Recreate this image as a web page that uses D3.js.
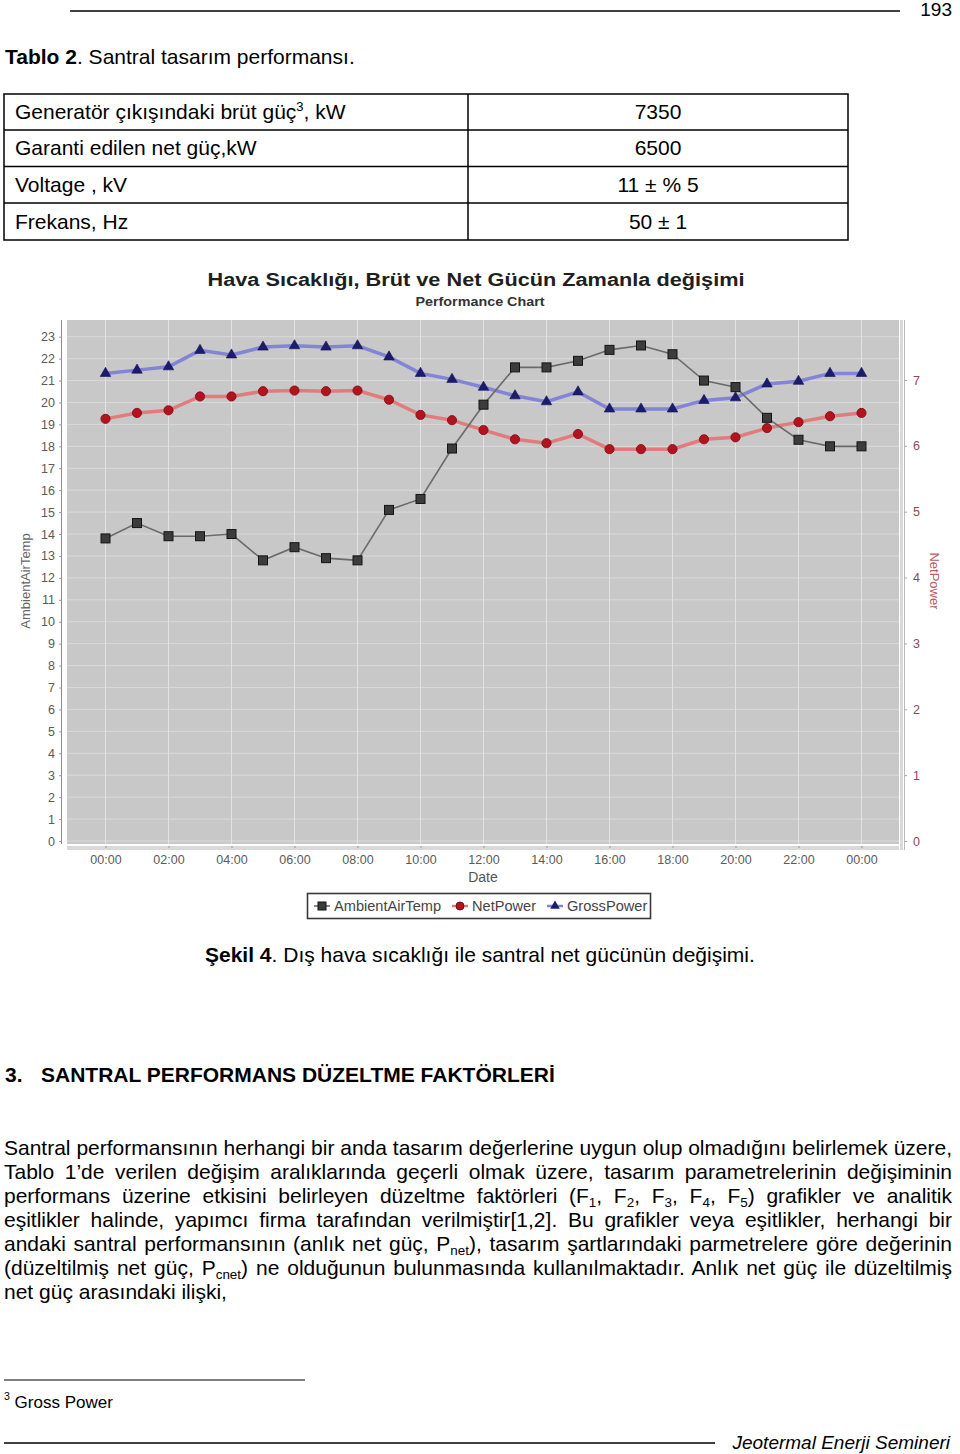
<!DOCTYPE html>
<html><head><meta charset="utf-8">
<script src="https://cdn.jsdelivr.net/npm/d3@7"></script>
<style>
body{margin:0;background:#fff;}
svg{display:block;}
text{font-family:"Liberation Sans",Arial,sans-serif;}
</style>
</head><body>
<svg id="page" width="960" height="1454"></svg>
<script>
// ---------- DATA ----------
const hours = [0,1,2,3,4,5,6,7,8,9,10,11,12,13,14,15,16,17,18,19,20,21,22,23,24];
const ambientAirTemp = [13.8,14.5,13.9,13.9,14.0,12.8,13.4,12.9,12.8,15.1,15.6,17.9,19.9,21.6,21.6,21.9,22.4,22.6,22.2,21.0,20.7,19.3,18.3,18.0,18.0];
const netPower = [6.41,6.50,6.54,6.75,6.75,6.83,6.84,6.83,6.84,6.70,6.47,6.39,6.24,6.10,6.04,6.18,5.95,5.95,5.95,6.10,6.13,6.27,6.36,6.45,6.50];
const grossPower = [7.10,7.15,7.20,7.45,7.38,7.50,7.52,7.50,7.52,7.35,7.10,7.01,6.89,6.76,6.67,6.82,6.56,6.56,6.56,6.69,6.73,6.94,6.98,7.10,7.10];
const xTickHours = [0,2,4,6,8,10,12,14,16,18,20,22,24];
const xTickLabels = ["00:00","02:00","04:00","06:00","08:00","10:00","12:00","14:00","16:00","18:00","20:00","22:00","00:00"];
const leftTicks = [0,1,2,3,4,5,6,7,8,9,10,11,12,13,14,15,16,17,18,19,20,21,22,23];
const rightTicks = [0,1,2,3,4,5,6,7];
const seriesNames = ["AmbientAirTemp","NetPower","GrossPower"];

const tableRows = [
  [["Generatör çıkışındaki brüt güç","n"],["3","sup"],[", kW","n"]],
  [["Garanti edilen net güç,kW","n"]],
  [["Voltage , kV","n"]],
  [["Frekans, Hz","n"]]
];
const tableValues = ["7350","6500","11 ± % 5","50 ± 1"];

const paragraph = [
  [["Santral performansının herhangi bir anda tasarım değerlerine uygun olup olmadığını belirlemek üzere,","n"]],
  [["Tablo 1’de verilen değişim aralıklarında geçerli olmak üzere, tasarım parametrelerinin değişiminin","n"]],
  [["performans üzerine etkisini belirleyen düzeltme faktörleri (F","n"],["1","sub"],[", F","n"],["2","sub"],[", F","n"],["3","sub"],[", F","n"],["4","sub"],[", F","n"],["5","sub"],[") grafikler ve analitik","n"]],
  [["eşitlikler halinde, yapımcı firma tarafından verilmiştir[1,2]. Bu grafikler veya eşitlikler, herhangi bir","n"]],
  [["andaki santral performansının (anlık net güç, P","n"],["net","sub"],["), tasarım şartlarındaki parmetrelere göre değerinin","n"]],
  [["(düzeltilmiş net güç, P","n"],["cnet","sub"],[") ne olduğunun bulunmasında kullanılmaktadır. Anlık net güç ile düzeltilmiş","n"]],
  [["net güç arasındaki ilişki,","n"]]
];

// ---------- PAGE ----------
const svg = d3.select("#page");
const F = 21;

function richText(g, segs, x, y, size, opts={}) {
  const t = g.append("text").attr("x", x).attr("y", y).attr("font-size", size).attr("fill", "#000");
  if (opts.anchor) t.attr("text-anchor", opts.anchor);
  let shift = 0;
  segs.forEach(([s, type]) => {
    const ts = t.append("tspan").text(s);
    if (type === "sub") { ts.attr("font-size", size*0.64).attr("dy", 4 - shift); shift = 4; }
    else if (type === "sup") { ts.attr("font-size", size*0.62).attr("dy", -8 - shift); shift = -8; }
    else if (type === "b") { ts.attr("font-weight", "bold").attr("dy", -shift); shift = 0; }
    else { ts.attr("dy", -shift); shift = 0; }
  });
  return t;
}

// header
svg.append("line").attr("x1", 70).attr("x2", 900).attr("y1", 11).attr("y2", 11).attr("stroke", "#000").attr("stroke-width", 1.5);
svg.append("text").attr("x", 952).attr("y", 16).attr("text-anchor", "end").attr("font-size", 19).text("193");

// table caption
richText(svg, [["Tablo 2","b"],[". Santral tasarım performansı.","n"]], 5, 64, F);

// table
const tRowY = [94, 130, 166.5, 203, 240];
const tg = svg.append("g");
tg.append("rect").attr("x", 4).attr("y", 94).attr("width", 844).attr("height", 146).attr("fill", "none").attr("stroke", "#000").attr("stroke-width", 1.5);
tRowY.slice(1, 4).forEach(y => tg.append("line").attr("x1", 4).attr("x2", 848).attr("y1", y).attr("y2", y).attr("stroke", "#000").attr("stroke-width", 1.5));
tg.append("line").attr("x1", 468).attr("x2", 468).attr("y1", 94).attr("y2", 240).attr("stroke", "#000").attr("stroke-width", 1.5);
tableRows.forEach((r, i) => {
  const yb = (tRowY[i] + tRowY[i+1]) / 2 + 7;
  richText(tg, r, 15, yb, F);
  tg.append("text").attr("x", 658).attr("y", yb).attr("text-anchor", "middle").attr("font-size", F).text(tableValues[i]);
});

// ---------- CHART ----------
const P = {left: 67, right: 899, top: 320, bottom: 844};
const x = d3.scaleLinear().domain([0, 24]).range([105.5, 861.5]);
const yL = d3.scaleLinear().domain([0, 23]).range([841, 336.7]);
const yR = d3.scaleLinear().domain([0, 7]).range([841, 380]);

const cg = svg.append("g");
cg.append("text").attr("x", 476).attr("y", 286).attr("text-anchor", "middle").attr("font-size", 18).attr("font-weight", "bold").attr("fill", "#1e1e1e")
  .attr("textLength", 537).attr("lengthAdjust", "spacingAndGlyphs").text("Hava Sıcaklığı, Brüt ve Net Gücün Zamanla değişimi");
cg.append("text").attr("x", 480).attr("y", 306).attr("text-anchor", "middle").attr("font-size", 12.5).attr("font-weight", "bold").attr("fill", "#333")
  .attr("textLength", 129).attr("lengthAdjust", "spacingAndGlyphs").text("Performance Chart");

// plot background
cg.append("rect").attr("x", P.left).attr("y", P.top).attr("width", P.right - P.left).attr("height", P.bottom - P.top).attr("fill", "#c8c8c8");
cg.append("rect").attr("x", P.left).attr("y", P.bottom + 2).attr("width", P.right - P.left).attr("height", 4).attr("fill", "#d9d9d9");
cg.append("rect").attr("x", P.right + 1).attr("y", P.top).attr("width", 3).attr("height", P.bottom - P.top + 6).attr("fill", "#d9d9d9");

// gridlines
cg.append("g").selectAll("line").data(leftTicks).join("line")
  .attr("x1", P.left).attr("x2", P.right).attr("y1", d => yL(d)).attr("y2", d => yL(d))
  .attr("stroke", "#dadada").attr("stroke-width", 1);
cg.append("g").selectAll("line").data(xTickHours).join("line")
  .attr("x1", d => x(d)).attr("x2", d => x(d)).attr("y1", P.top).attr("y2", P.bottom)
  .attr("stroke", "#e2e2e2").attr("stroke-width", 1);

// axes
const axL = cg.append("g").attr("transform", "translate(62,0)")
  .call(d3.axisLeft(yL).tickValues(leftTicks).tickSize(3).tickPadding(4));
axL.select(".domain").attr("d", `M-0.5,${P.top}V${P.bottom}`).attr("stroke", "#8a8a8a");
axL.selectAll(".tick line").attr("stroke", "#999");
axL.selectAll(".tick text").attr("font-size", 12.5).attr("fill", "#5a5a5a").attr("font-family", "Liberation Sans, Arial, sans-serif");

const axR = cg.append("g").attr("transform", "translate(904,0)")
  .call(d3.axisRight(yR).tickValues(rightTicks).tickFormat(d3.format("d")).tickSize(3).tickPadding(6));
axR.select(".domain").attr("d", `M0.5,${P.top}V${P.bottom + 6}`).attr("stroke", "#bbbbbb");
axR.selectAll(".tick line").attr("stroke", "#aaa");
axR.selectAll(".tick text").attr("font-size", 12.5).attr("fill", "#8a4a55").attr("font-family", "Liberation Sans, Arial, sans-serif");

const axX = cg.append("g").attr("transform", `translate(0,${P.bottom + 2})`)
  .call(d3.axisBottom(x).tickValues(xTickHours).tickFormat((d, i) => xTickLabels[i]).tickSize(2).tickPadding(7));
axX.select(".domain").remove();
axX.selectAll(".tick line").attr("stroke", "#999");
axX.selectAll(".tick text").attr("font-size", 12.5).attr("fill", "#5a5a5a").attr("font-family", "Liberation Sans, Arial, sans-serif");

cg.append("text").attr("x", 483).attr("y", 882).attr("text-anchor", "middle").attr("font-size", 14).attr("fill", "#555").text("Date");
cg.append("text").attr("transform", "translate(30,581) rotate(-90)").attr("text-anchor", "middle").attr("font-size", 13).attr("fill", "#666").text("AmbientAirTemp");
cg.append("text").attr("transform", "translate(930,581) rotate(90)").attr("text-anchor", "middle").attr("font-size", 13).attr("fill", "#c05868").text("NetPower");

// lines
const lineL = d3.line().x((d, i) => x(hours[i])).y(d => yL(d));
const lineR = d3.line().x((d, i) => x(hours[i])).y(d => yR(d));
cg.append("path").datum(grossPower).attr("d", lineR).attr("fill", "none").attr("stroke", "#8383d8").attr("stroke-width", 3.5);
cg.append("path").datum(netPower).attr("d", lineR).attr("fill", "none").attr("stroke", "#e27c7c").attr("stroke-width", 3.5);
cg.append("path").datum(ambientAirTemp).attr("d", lineL).attr("fill", "none").attr("stroke", "#6a6a6a").attr("stroke-width", 1.6);

// markers
cg.append("g").selectAll("path").data(grossPower).join("path")
  .attr("transform", (d, i) => `translate(${x(hours[i])},${yR(d)})`)
  .attr("d", d3.symbol(d3.symbolTriangle, 48)).attr("fill", "#1c1c6e").attr("stroke", "#101050").attr("stroke-width", 0.6);
cg.append("g").selectAll("circle").data(netPower).join("circle")
  .attr("cx", (d, i) => x(hours[i])).attr("cy", d => yR(d)).attr("r", 4.6)
  .attr("fill", "#b3131f").attr("stroke", "#7a0a12").attr("stroke-width", 0.8);
cg.append("g").selectAll("rect").data(ambientAirTemp).join("rect")
  .attr("x", (d, i) => x(hours[i]) - 4.5).attr("y", d => yL(d) - 4.5).attr("width", 9).attr("height", 9)
  .attr("fill", "#3c3c3c").attr("stroke", "#141414").attr("stroke-width", 1);

// legend
const lg = cg.append("g");
lg.append("rect").attr("x", 307.5).attr("y", 893.5).attr("width", 343).attr("height", 25).attr("fill", "#fff").attr("stroke", "#3a3a3a").attr("stroke-width", 1.6);
const legX = [314, 452, 547];
const legColors = ["#6a6a6a", "#e27c7c", "#8383d8"];
seriesNames.forEach((name, i) => {
  const g = lg.append("g").attr("transform", `translate(${legX[i]},906)`);
  g.append("line").attr("x1", 0).attr("x2", 16).attr("stroke", legColors[i]).attr("stroke-width", i ? 2.5 : 1.6);
  if (i === 0) g.append("rect").attr("x", 4).attr("y", -4).attr("width", 8).attr("height", 8).attr("fill", "#3c3c3c").attr("stroke", "#141414");
  if (i === 1) g.append("circle").attr("cx", 8).attr("r", 4).attr("fill", "#b3131f").attr("stroke", "#7a0a12");
  if (i === 2) g.append("path").attr("transform", "translate(8,0)").attr("d", d3.symbol(d3.symbolTriangle, 40)).attr("fill", "#1c1c6e");
  g.append("text").attr("x", 20).attr("y", 5).attr("font-size", 14.6).attr("fill", "#444").text(name);
});

// caption
richText(svg, [["Şekil 4","b"],[". Dış hava sıcaklığı ile santral net gücünün değişimi.","n"]], 205, 962, F);

// section heading
svg.append("text").attr("x", 5).attr("y", 1082).attr("font-size", F).attr("font-weight", "bold").text("3.");
svg.append("text").attr("x", 41).attr("y", 1082).attr("font-size", F).attr("font-weight", "bold").text("SANTRAL PERFORMANS DÜZELTME FAKTÖRLERİ");

// paragraph (justified)
paragraph.forEach((segs, i) => {
  const t = richText(svg, segs, 4, 1155 + i * 24, F);
  if (i < paragraph.length - 1) {
    const w = t.node().getComputedTextLength();
    const spaces = segs.map(s => s[0]).join("").split(" ").length - 1;
    t.attr("word-spacing", (948 - w) / spaces);
  }
});

// footnote
svg.append("line").attr("x1", 4).attr("x2", 305).attr("y1", 1380).attr("y2", 1380).attr("stroke", "#000").attr("stroke-width", 1);
richText(svg, [["3","sup"],[" Gross Power","n"]], 4, 1408, 17);

// footer
svg.append("line").attr("x1", 4).attr("x2", 715).attr("y1", 1443).attr("y2", 1443).attr("stroke", "#000").attr("stroke-width", 1.5);
svg.append("text").attr("x", 950).attr("y", 1449).attr("text-anchor", "end").attr("font-size", 19).attr("font-style", "italic").text("Jeotermal Enerji Semineri");
</script>
</body></html>
